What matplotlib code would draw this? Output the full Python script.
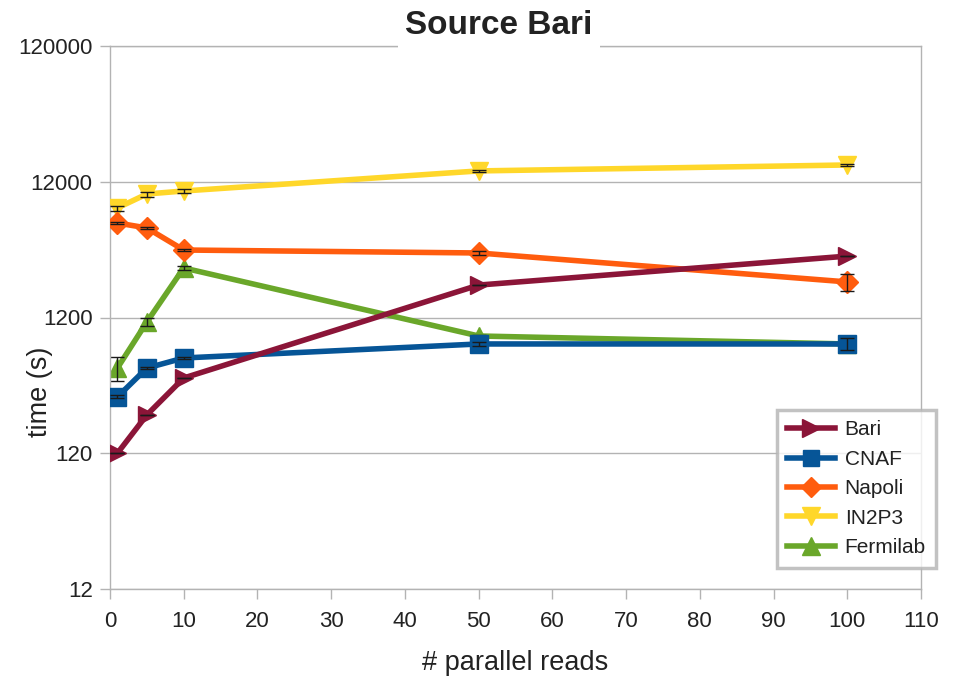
import matplotlib
matplotlib.use("Agg")
import matplotlib.pyplot as plt
from matplotlib.ticker import FixedLocator, FixedFormatter, NullLocator

plt.rcParams['font.family'] = ['Liberation Sans', 'DejaVu Sans']

# parallel reads
x = [1, 5, 10, 50, 100]

# transfer times (s) and errors per destination
bari = [120, 230, 430, 2080, 3400]
bari_err = [0, 0, 0, 0, 0]
cnaf = [312, 509, 604, 766, 766]
cnaf_err = [8, 10, 12, 30, 75]
napoli = [5960, 5480, 3770, 3585, 2194]
napoli_err = [80, 80, 60, 140, 300]
in2p3 = [7690, 9750, 10260, 14420, 15950]
in2p3_err = [330, 420, 350, 150, 150]
fermilab = [509, 1112, 2780, 877, 766]
fermilab_err = [100, 75, 80, 10, 10]

series = [
    ("Bari", bari, bari_err, "#8b1538", ">", 6, 13),
    ("CNAF", cnaf, cnaf_err, "#065597", "s", 5, 12.5),
    ("Napoli", napoli, napoli_err, "#ff5c0e", "D", 4, 11),
    ("IN2P3", in2p3, in2p3_err, "#ffd72a", "v", 3, 13),
    ("Fermilab", fermilab, fermilab_err, "#6aa72a", "^", 2, 13),
]

y_ticks = [12, 120, 1200, 12000, 120000]
y_labels = ["12", "120", "1200", "12000", "120000"]
x_ticks = list(range(0, 111, 10))

fig = plt.figure(figsize=(9.61, 6.76), dpi=100)
ax = fig.add_axes([110/961, 1-589/676, (921-110)/961, (589-46)/676])

grey = "#b3b3b3"
text_col = "#222222"
for name, vals, err, col, mk, z, ms in series:
    ax.plot(x, vals, color=col, lw=4.0, marker=mk, ms=ms, mec=col,
            label=name, zorder=z, solid_joinstyle="miter")
    ax.errorbar(x, vals, yerr=err, fmt="none", ecolor="#1a1a1a",
                elinewidth=1.0, capsize=5, capthick=1.0, zorder=z + 0.5)

ax.set_yscale("log")
ax.set_ylim(12, 120000)
ax.set_xlim(0, 110)
ax.yaxis.set_major_locator(FixedLocator(y_ticks))
ax.yaxis.set_major_formatter(FixedFormatter(y_labels))
ax.yaxis.set_minor_locator(NullLocator())
ax.set_xticks(x_ticks)

ax.grid(axis="y", color=grey, lw=1.0)
ax.set_axisbelow(True)
for s in ax.spines.values():
    s.set_color(grey)
    s.set_linewidth(1.0)
ax.tick_params(axis="both", colors=grey, length=7, width=1.0,
               labelcolor=text_col, labelsize=16)
ax.tick_params(axis="y", pad=5.5)
ax.tick_params(axis="x", pad=9)

ax.set_ylabel("time (s)", fontsize=19.5, color=text_col)
ax.yaxis.set_label_coords((53 - 110) / 811, (589 - 392) / 543)
ax.set_xlabel("# parallel reads", fontsize=19.5, color=text_col, labelpad=13)

fig.text(499/961, 1-25/676, "Source Bari", ha="center", va="center",
         fontsize=24, fontweight="bold", color=text_col,
         bbox=dict(facecolor="white", edgecolor="none", pad=5))

leg = ax.legend(loc="upper left", bbox_to_anchor=(777/961, 1-410/676),
                bbox_transform=fig.transFigure, fontsize=15, frameon=True,
                fancybox=False, shadow=False, borderpad=0.5,
                handlelength=2.3, labelspacing=0.5, handletextpad=0.45,
                markerscale=0.95, borderaxespad=0)
leg.get_frame().set_edgecolor(grey)
leg.get_frame().set_linewidth(2.5)
leg.set_zorder(20)
for t in leg.get_texts():
    t.set_color(text_col)

fig.savefig("out.png", dpi=100)
